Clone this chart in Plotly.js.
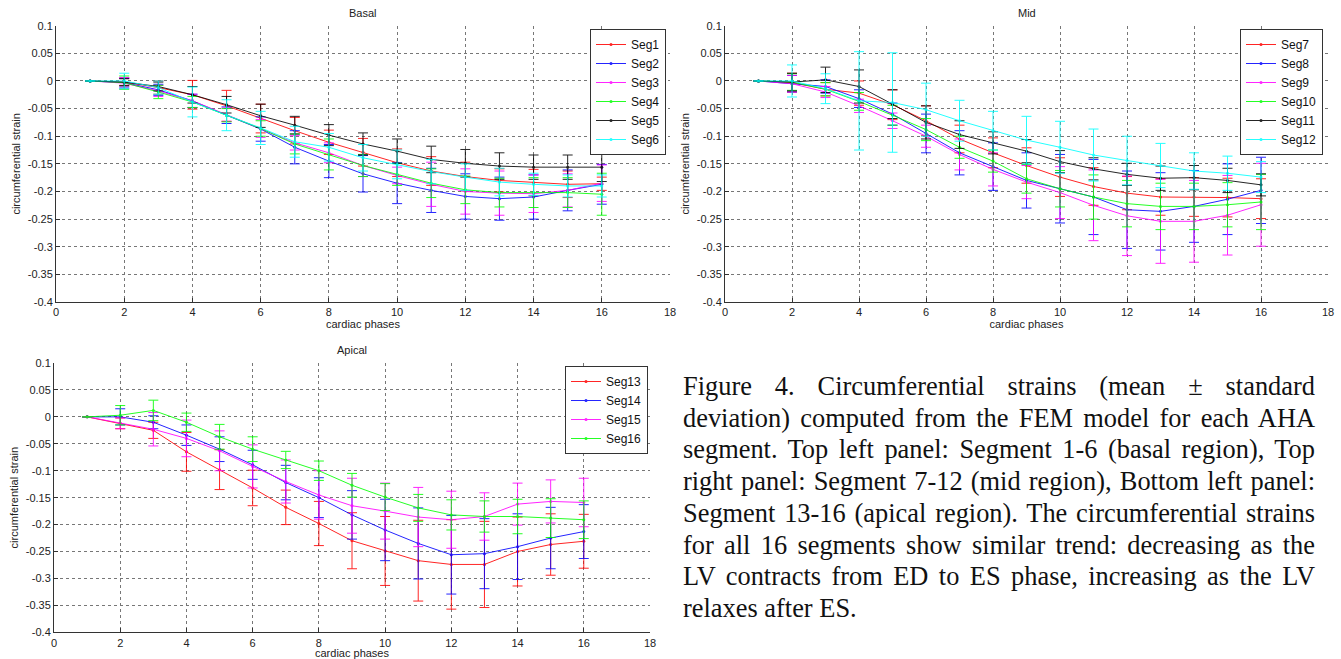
<!DOCTYPE html>
<html>
<head>
<meta charset="utf-8">
<script src="https://cdn.plot.ly/plotly-3.0.1.min.js"></script>
<style>
  html, body { margin: 0; padding: 0; background: #ffffff; }
  #wrap { position: relative; width: 1341px; height: 659px; overflow: hidden; }
  #chart { position: absolute; left: 0; top: 0; width: 1341px; height: 659px; }
  #caption {
    position: absolute; left: 683px; top: 371px; width: 632px;
    font-family: "Liberation Serif", "Times New Roman", serif;
    font-size: 26.4px; line-height: 31.7px; color: #111;
    text-align: justify; text-align-last: left;
  }
</style>
</head>
<body>
<div id="wrap">
  <div id="chart"></div>
  <div id="caption">Figure 4. Circumferential strains (mean ± standard deviation) computed from the FEM model for each AHA segment. Top left panel: Segment 1-6 (basal region), Top right panel: Segment 7-12 (mid region), Bottom left panel: Segment 13-16 (apical region). The circumferential strains for all 16 segments show similar trend: decreasing as the LV contracts from ED to ES phase, increasing as the LV relaxes after ES.</div>
</div>
<script>
// ---------------- data ----------------
const phases = [1,2,3,4,5,6,7,8,9,10,11,12,13,14,15,16];

const panelTitles = ["Basal", "Mid", "Apical"];
const xAxisTitle = "cardiac phases";
const yAxisTitle = "circumferential strain";

const xTickVals = [0,2,4,6,8,10,12,14,16,18];
const xTickText = ["0","2","4","6","8","10","12","14","16","18"];
const yTickVals = [0.1,0.05,0,-0.05,-0.1,-0.15,-0.2,-0.25,-0.3,-0.35,-0.4];
const yTickText = ["0.1","0.05","0","-0.05","-0.1","-0.15","-0.2","-0.25","-0.3","-0.35","-0.4"];

const basalNames = ["Seg1","Seg2","Seg3","Seg4","Seg5","Seg6"];
const midNames = ["Seg7","Seg8","Seg9","Seg10","Seg11","Seg12"];
const apicalNames = ["Seg13","Seg14","Seg15","Seg16"];

const segColors = ["#ff0000","#0000ff","#ff00ff","#00ff00","#000000","#00ffff"];
const apicalColors = ["#ff0000","#0000ff","#ff00ff","#00ff00"];

// Basal means / standard deviations
const seg1  = [0,-0.002,-0.012,-0.025,-0.045,-0.068,-0.090,-0.111,-0.129,-0.148,-0.163,-0.173,-0.180,-0.184,-0.187,-0.186];
const seg1e = [0,0.007,0.012,0.026,0.028,0.026,0.024,0.022,0.025,0.025,0.026,0.026,0.021,0.024,0.024,0.012];
const seg2  = [0,-0.003,-0.016,-0.036,-0.062,-0.087,-0.120,-0.145,-0.168,-0.185,-0.198,-0.209,-0.213,-0.210,-0.198,-0.187];
const seg2e = [0,0.008,0.010,0.012,0.015,0.022,0.030,0.030,0.033,0.037,0.040,0.041,0.039,0.040,0.037,0.036];
const seg3  = [0,-0.004,-0.018,-0.036,-0.061,-0.086,-0.112,-0.130,-0.153,-0.171,-0.187,-0.200,-0.203,-0.204,-0.198,-0.185];
const seg3e = [0,0.010,0.010,0.012,0.012,0.016,0.013,0.018,0.020,0.015,0.040,0.041,0.040,0.034,0.030,0.033];
const seg4  = [0,-0.003,-0.020,-0.038,-0.062,-0.086,-0.114,-0.133,-0.153,-0.169,-0.185,-0.197,-0.202,-0.202,-0.202,-0.205];
const seg4e = [0,0.012,0.012,0.010,0.012,0.014,0.018,0.028,0.020,0.020,0.026,0.025,0.026,0.027,0.027,0.038];
const seg5  = [0,-0.002,-0.010,-0.025,-0.043,-0.063,-0.080,-0.098,-0.114,-0.127,-0.142,-0.149,-0.154,-0.156,-0.156,-0.156];
const seg5e = [0,0.006,0.008,0.015,0.015,0.021,0.016,0.019,0.020,0.022,0.024,0.025,0.024,0.022,0.022,0.026];
const seg6  = [0,0,-0.012,-0.038,-0.062,-0.085,-0.110,-0.120,-0.139,-0.151,-0.164,-0.174,-0.183,-0.187,-0.190,-0.190];
const seg6e = [0,0.014,0.012,0.027,0.028,0.030,0.028,0.025,0.024,0.026,0.022,0.024,0.025,0.020,0.020,0.020];

// Mid means / standard deviations
const seg7   = [0,-0.003,-0.015,-0.022,-0.043,-0.072,-0.105,-0.130,-0.153,-0.174,-0.191,-0.203,-0.210,-0.210,-0.211,-0.213];
const seg7e  = [0,0.017,0.012,0.022,0.027,0.027,0.025,0.027,0.032,0.035,0.034,0.030,0.033,0.035,0.035,0.036];
const seg8   = [0,-0.005,-0.010,-0.032,-0.060,-0.095,-0.130,-0.155,-0.180,-0.195,-0.210,-0.233,-0.236,-0.227,-0.214,-0.198];
const seg8e  = [0,0.015,0.012,0.016,0.020,0.035,0.040,0.043,0.050,0.062,0.068,0.070,0.070,0.065,0.064,0.060];
const seg9   = [0,-0.005,-0.020,-0.045,-0.072,-0.100,-0.133,-0.160,-0.183,-0.202,-0.225,-0.244,-0.254,-0.254,-0.243,-0.224];
const seg9e  = [0,0.015,0.010,0.012,0.014,0.020,0.028,0.030,0.030,0.047,0.064,0.072,0.076,0.074,0.072,0.075];
const seg10  = [0,-0.002,-0.015,-0.037,-0.062,-0.088,-0.120,-0.145,-0.177,-0.195,-0.210,-0.222,-0.227,-0.227,-0.224,-0.219];
const seg10e = [0,0.015,0.012,0.016,0.018,0.020,0.020,0.020,0.026,0.033,0.040,0.042,0.042,0.042,0.040,0.050];
const seg11  = [0,-0.002,0.002,-0.010,-0.042,-0.075,-0.097,-0.112,-0.127,-0.146,-0.159,-0.169,-0.176,-0.175,-0.180,-0.188];
const seg11e = [0,0.016,0.023,0.030,0.026,0.030,0.025,0.020,0.021,0.020,0.020,0.020,0.022,0.022,0.022,0.020];
const seg12  = [0,0,-0.014,-0.036,-0.039,-0.052,-0.072,-0.090,-0.107,-0.120,-0.134,-0.144,-0.153,-0.163,-0.167,-0.174];
const seg12e = [0,0.029,0.027,0.089,0.090,0.048,0.037,0.035,0.043,0.047,0.047,0.044,0.040,0.033,0.031,0.028];

// Apical means / standard deviations
const seg13  = [0,-0.012,-0.025,-0.065,-0.098,-0.132,-0.168,-0.198,-0.230,-0.249,-0.267,-0.274,-0.274,-0.250,-0.237,-0.231];
const seg13e = [0,0.010,0.015,0.036,0.037,0.033,0.032,0.041,0.052,0.064,0.075,0.083,0.080,0.064,0.057,0.050];
const seg14  = [0,0,-0.010,-0.034,-0.060,-0.089,-0.122,-0.150,-0.182,-0.210,-0.235,-0.256,-0.254,-0.241,-0.225,-0.213];
const seg14e = [0,0.015,0.012,0.019,0.023,0.027,0.032,0.037,0.045,0.057,0.066,0.073,0.065,0.061,0.057,0.050];
const seg15  = [0,-0.012,-0.023,-0.040,-0.063,-0.092,-0.120,-0.145,-0.165,-0.175,-0.186,-0.191,-0.185,-0.162,-0.157,-0.159];
const seg15e = [0,0.010,0.031,0.034,0.037,0.040,0.040,0.045,0.051,0.052,0.055,0.053,0.044,0.039,0.040,0.045];
const seg16  = [0,0.003,0.012,-0.010,-0.037,-0.060,-0.080,-0.100,-0.127,-0.149,-0.169,-0.182,-0.185,-0.185,-0.188,-0.191];
const seg16e = [0,0.018,0.019,0.017,0.023,0.023,0.016,0.018,0.022,0.025,0.025,0.028,0.029,0.032,0.036,0.035];

const basalMeans = [seg1, seg2, seg3, seg4, seg5, seg6];
const basalErrs  = [seg1e, seg2e, seg3e, seg4e, seg5e, seg6e];
const midMeans   = [seg7, seg8, seg9, seg10, seg11, seg12];
const midErrs    = [seg7e, seg8e, seg9e, seg10e, seg11e, seg12e];
const apicalMeans = [seg13, seg14, seg15, seg16];
const apicalErrs  = [seg13e, seg14e, seg15e, seg16e];

// ---------------- build ----------------
const W = 1341, H = 659;
const px = v => v / W;
const py = v => 1 - v / H;

const FONT = '"Liberation Sans", Arial, sans-serif';

function makeTraces(names, means, errs, colors, axisSuffix, legendId) {
  return names.map((n, i) => ({
    type: 'scatter',
    mode: 'lines+markers',
    name: n,
    x: phases,
    y: means[i],
    xaxis: 'x' + axisSuffix,
    yaxis: 'y' + axisSuffix,
    legend: legendId,
    opacity: 0.85,
    line: { color: colors[i], width: 1 },
    marker: { color: colors[i], size: 3 },
    error_y: { type: 'data', array: errs[i], visible: true, color: colors[i], thickness: 1, width: 5 }
  }));
}

const traces = []
  .concat(makeTraces(basalNames, basalMeans, basalErrs, segColors, '', 'legend'))
  .concat(makeTraces(midNames, midMeans, midErrs, segColors, '2', 'legend2'))
  .concat(makeTraces(apicalNames, apicalMeans, apicalErrs, apicalColors, '3', 'legend3'));

function xAx(domain, anchor) {
  return {
    domain: domain, anchor: anchor, range: [0, 18],
    tickmode: 'array', tickvals: xTickVals, ticktext: xTickText,
    ticks: 'inside', ticklen: 4, tickcolor: '#333',
    showline: true, linecolor: '#333', linewidth: 1, mirror: false,
    showgrid: true, gridcolor: '#777', griddash: 'dot', gridwidth: 1,
    zeroline: false, tickfont: { family: FONT, size: 11, color: '#222' },
    title: { text: xAxisTitle, font: { family: FONT, size: 11, color: '#222' }, standoff: 2 }
  };
}
function yAx(domain, anchor) {
  return {
    domain: domain, anchor: anchor, range: [-0.4, 0.1],
    tickmode: 'array', tickvals: yTickVals, ticktext: yTickText,
    ticks: 'inside', ticklen: 4, tickcolor: '#333',
    showline: true, linecolor: '#333', linewidth: 1, mirror: false,
    showgrid: true, gridcolor: '#777', griddash: 'dot', gridwidth: 1,
    zeroline: false, tickfont: { family: FONT, size: 11, color: '#222' },
    title: { text: yAxisTitle, font: { family: FONT, size: 11, color: '#222' }, standoff: 4 }
  };
}

const topDom = [py(302), py(25.7)];
const botDom = [py(632.3), py(363)];

function legendAt(xRight, yTop) {
  return {
    x: px(xRight), xanchor: 'right', y: py(yTop), yanchor: 'top',
    bgcolor: '#ffffff', bordercolor: '#333', borderwidth: 1,
    font: { family: FONT, size: 12, color: '#111' },
    itemwidth: 30, tracegroupgap: 0
  };
}

const layout = {
  width: W, height: H,
  margin: { l: 0, r: 0, t: 0, b: 0 },
  paper_bgcolor: '#ffffff', plot_bgcolor: '#ffffff',
  showlegend: true,
  xaxis: xAx([px(56), px(670)], 'y'),
  yaxis: yAx(topDom, 'x'),
  xaxis2: xAx([px(725), px(1328)], 'y2'),
  yaxis2: yAx(topDom, 'x2'),
  xaxis3: xAx([px(54), px(650)], 'y3'),
  yaxis3: yAx(botDom, 'x3'),
  legend: legendAt(666, 29),
  legend2: legendAt(1323, 29),
  legend3: legendAt(648, 366),
  annotations: [
    { text: panelTitles[0], xref: 'paper', yref: 'paper', x: px(363), y: py(12.7), xanchor: 'center', yanchor: 'middle', showarrow: false, font: { family: FONT, size: 11, color: '#222' } },
    { text: panelTitles[1], xref: 'paper', yref: 'paper', x: px(1026.5), y: py(12.7), xanchor: 'center', yanchor: 'middle', showarrow: false, font: { family: FONT, size: 11, color: '#222' } },
    { text: panelTitles[2], xref: 'paper', yref: 'paper', x: px(352), y: py(350), xanchor: 'center', yanchor: 'middle', showarrow: false, font: { family: FONT, size: 11, color: '#222' } }
  ]
};

Plotly.newPlot('chart', traces, layout, { displayModeBar: false, staticPlot: true });
</script>
</body>
</html>
